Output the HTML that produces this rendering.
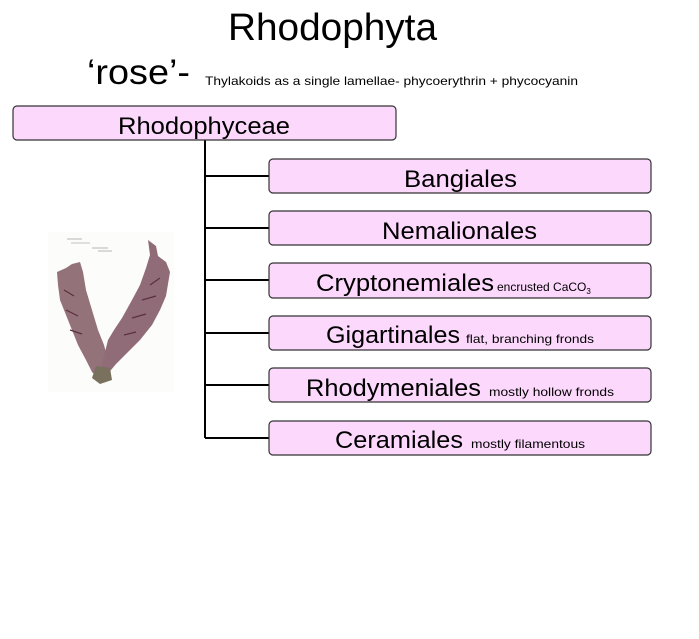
<!DOCTYPE html>
<html><head><meta charset="utf-8"><style>
html,body{margin:0;padding:0;background:#fff;}
svg{display:block;font-family:"Liberation Sans",Arial,sans-serif;}
</style></head><body>
<svg width="699" height="639" viewBox="0 0 699 639" xmlns="http://www.w3.org/2000/svg">
<rect width="699" height="639" fill="#fff"/>
<text x="228" y="40" font-size="38" textLength="209" lengthAdjust="spacingAndGlyphs" fill="#000">Rhodophyta</text>
<text x="87" y="84" font-size="35" textLength="103" lengthAdjust="spacingAndGlyphs" fill="#000">‘rose’-</text>
<text x="205" y="85" font-size="12" textLength="373" lengthAdjust="spacingAndGlyphs" fill="#000">Thylakoids as a single lamellae- phycoerythrin + phycocyanin</text>

<g stroke="#000" stroke-width="2">
<line x1="205" y1="140" x2="205" y2="438"/>
<line x1="205" y1="176" x2="269" y2="176"/>
<line x1="205" y1="228" x2="269" y2="228"/>
<line x1="205" y1="280" x2="269" y2="280"/>
<line x1="205" y1="333" x2="269" y2="333"/>
<line x1="205" y1="385" x2="269" y2="385"/>
<line x1="205" y1="438" x2="269" y2="438"/>
</g>
<g fill="#fcd8fc" stroke="#333" stroke-width="1.2">
<rect x="13" y="106" width="383" height="34" rx="4"/>
<rect x="269" y="159" width="382" height="34" rx="4"/>
<rect x="269" y="211" width="382" height="34" rx="4"/>
<rect x="269" y="263" width="382" height="35" rx="4"/>
<rect x="269" y="316" width="382" height="34" rx="4"/>
<rect x="269" y="368" width="382" height="34" rx="4"/>
<rect x="269" y="421" width="382" height="34" rx="4"/>
</g>
<g fill="#000">
<text x="118" y="134" font-size="24" textLength="172" lengthAdjust="spacingAndGlyphs">Rhodophyceae</text>
<text x="404" y="187" font-size="24" textLength="113" lengthAdjust="spacingAndGlyphs">Bangiales</text>
<text x="382" y="239" font-size="24" textLength="155" lengthAdjust="spacingAndGlyphs">Nemalionales</text>
<text x="316" y="291" font-size="24" textLength="178" lengthAdjust="spacingAndGlyphs">Cryptonemiales</text>
<text x="497" y="291" font-size="12">encrusted CaCO<tspan font-size="8" dy="3">3</tspan></text>
<text x="326" y="343" font-size="24" textLength="134" lengthAdjust="spacingAndGlyphs">Gigartinales</text>
<text x="466" y="343" font-size="12" textLength="128" lengthAdjust="spacingAndGlyphs">flat, branching fronds</text>
<text x="306" y="396" font-size="24" textLength="175" lengthAdjust="spacingAndGlyphs">Rhodymeniales</text>
<text x="489" y="396" font-size="12" textLength="125" lengthAdjust="spacingAndGlyphs">mostly hollow fronds</text>
<text x="335" y="448" font-size="24" textLength="128" lengthAdjust="spacingAndGlyphs">Ceramiales</text>
<text x="471" y="448" font-size="12" textLength="114" lengthAdjust="spacingAndGlyphs">mostly filamentous</text>
</g>

<!-- seaweed specimen -->
<rect x="48" y="232" width="126" height="160" fill="#fcfcfa"/>
<g stroke="#888" stroke-width="0.6">
<line x1="67" y1="239" x2="82" y2="239"/>
<line x1="71" y1="243" x2="90" y2="243"/>
<line x1="92" y1="248" x2="108" y2="248"/>
<line x1="98" y1="251" x2="112" y2="251"/>
</g>
<path d="M57,272 L66,268 L72,264 L80,262 L83,272 L86,290 L92,310 L98,330 L104,345 L108,360 L104,372 L98,378 L92,372 L86,360 L78,345 L72,330 L66,315 L60,300 L58,285 Z" fill="#94727a"/>
<path d="M148,240 L156,246 L158,256 L166,262 L170,272 L168,284 L166,296 L160,310 L152,325 L140,340 L128,352 L116,364 L106,376 L100,372 L104,356 L108,340 L114,330 L122,318 L132,300 L140,285 L146,268 L150,255 Z" fill="#8f6c78"/>
<path d="M96,366 L110,368 L112,380 L100,384 L92,378 Z" fill="#7a705e"/>
<g stroke="#5a3040" stroke-width="1.2" fill="none">
<path d="M64,290 L74,296"/><path d="M66,310 L78,316"/><path d="M70,330 L82,334"/>
<path d="M150,285 L160,278"/><path d="M142,300 L156,296"/><path d="M132,318 L146,314"/><path d="M124,335 L136,332"/>
</g>
</svg>
</body></html>
